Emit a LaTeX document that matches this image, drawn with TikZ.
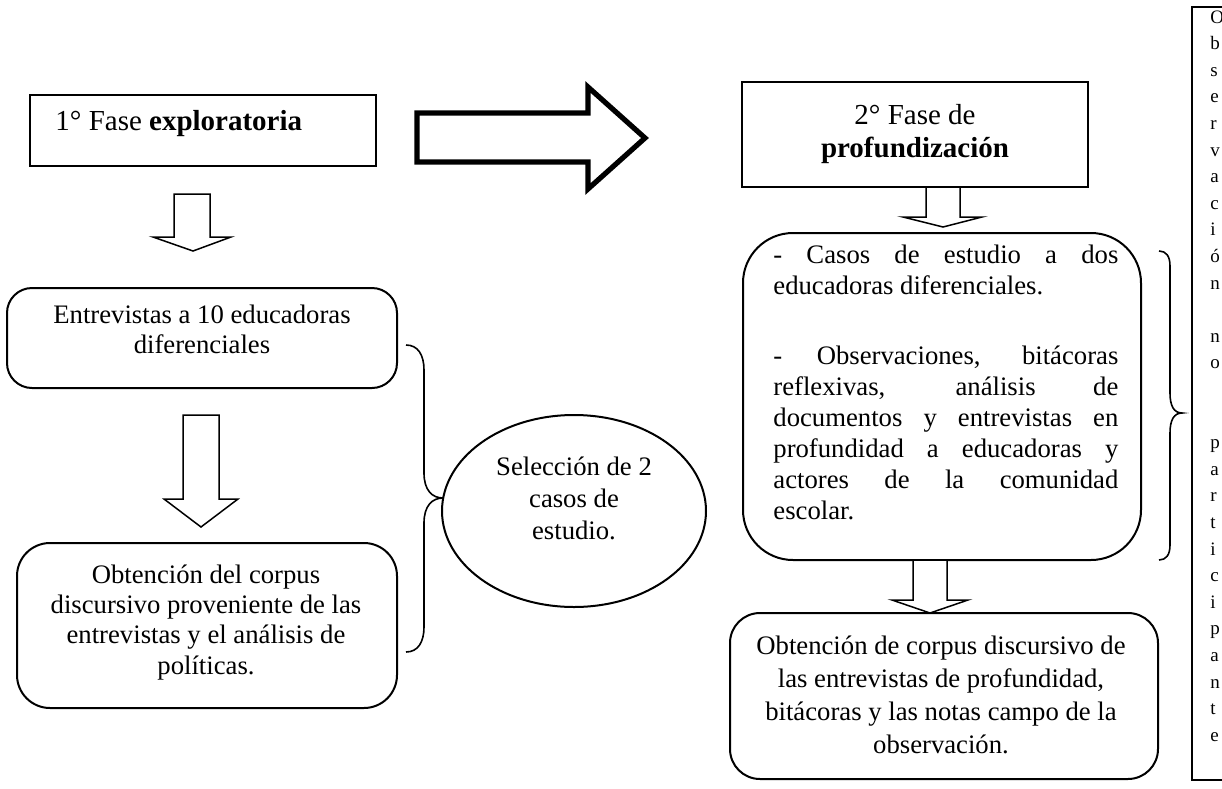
\documentclass[tikz,border=0pt]{standalone}
\usepackage{fontspec}
\setmainfont{Liberation Serif}
\usetikzlibrary{shapes.geometric}
\begin{document}
\begin{tikzpicture}[x=0.5pt,y=-0.5pt,
  frame/.style={draw=black, line width=1pt, inner sep=0pt, outer sep=0pt},
  rbox/.style={frame, rectangle},
  blockarrow/.style={draw=black, line width=0.75pt, line join=miter, fill=white},
  bigarrow/.style={draw=black, line width=2.6pt, line join=miter},
  bracepath/.style={draw=black, line width=0.8pt},
  tx/.style={font=\fontsize{13.35}{15.5}\selectfont, inner sep=0pt, anchor=base},
  txl/.style={tx, anchor=base west},
  ttl/.style={font=\fontsize{14.5}{16.5}\selectfont, inner sep=0pt, anchor=base},
  vt/.style={font=\fontsize{9.5}{11}\selectfont, inner sep=0pt, anchor=base west}]
\useasboundingbox (0,0) rectangle (1222,788);
\clip (0,0) rectangle (1222,788);

% ---------- phase 1 ----------
\node[rbox, minimum width=173pt, minimum height=35.5pt] (b1) at (203,130.5) {};
\node[ttl, anchor=base west] (f1) at (55,130) {1° Fase \textbf{exploratoria}};

% small arrow below phase 1
\draw[blockarrow] (174,194) -- (210,194) -- (210,237) -- (231,237) -- (193,251) -- (153,237) -- (174,237) -- cycle;

% big right arrow
\draw[bigarrow] (417,113) -- (588,113) -- (588,87) -- (645,138) -- (588,189) -- (588,162) -- (417,162) -- cycle;

% Entrevistas box
\node[rbox, rounded corners=12.5pt, minimum width=195pt, minimum height=50pt] (b3) at (202,338) {};
\node[tx] (t3a) at (202,323) {Entrevistas a 10 educadoras};
\node[tx] (t3b) at (202,353) {diferenciales};

% arrow between
\draw[blockarrow] (183,415) -- (219,415) -- (219,499) -- (238,499) -- (201,527) -- (164,499) -- (183,499) -- cycle;

% Obtencion box (left)
\node[rbox, rounded corners=16.5pt, minimum width=190pt, minimum height=82.5pt] (b4) at (207,625.5) {};
\node[tx] (t4a) at (206,583) {Obtención del corpus};
\node[tx] (t4b) at (206,613) {discursivo proveniente de las};
\node[tx] (t4c) at (206,643) {entrevistas y el análisis de};
\node[tx] (t4d) at (206,674) {políticas.};

% left brace
\draw[bracepath] (406,345) .. controls (418,345) and (424,355) .. (424,370)
  -- (424,473) .. controls (424,490) and (432,498) .. (443,498)
  .. controls (432,498) and (424,506) .. (424,523)
  -- (424,627) .. controls (424,642) and (418,652) .. (406,652);

% ellipse
\node[frame, ellipse, minimum width=132pt, minimum height=96pt] (sel) at (574,511) {};
\node[tx] (s1) at (574,475) {Selección de 2};
\node[tx] (s2) at (574,507) {casos de};
\node[tx] (s3) at (574,539) {estudio.};

% ---------- phase 2 ----------
\node[rbox, minimum width=173pt, minimum height=52.5pt] (b2) at (915,134.5) {};
\node[ttl] (f2a) at (915,124) {2° Fase de};
\node[ttl] (f2b) at (915,157) {\textbf{profundización}};

% small arrow below phase 2
\draw[blockarrow] (926,187) -- (960,187) -- (960,217) -- (982,217) -- (943,227) -- (903,217) -- (926,217) -- cycle;

% Casos box
\node[rbox, rounded corners=25pt, minimum width=199pt, minimum height=163.5pt] (b5) at (942,396.5) {};
\node[txl] (c1) at (773,263) {\makebox[172.5pt][s]{- Casos de estudio a dos}};
\node[txl] (c2) at (773,294) {educadoras diferenciales.};
\node[txl] (c3) at (773,364) {\makebox[172.5pt][s]{- Observaciones, bitácoras}};
\node[txl] (c4) at (773,395) {\makebox[172.5pt][s]{reflexivas, análisis de}};
\node[txl] (c5) at (773,426) {\makebox[172.5pt][s]{documentos y entrevistas en}};
\node[txl] (c6) at (773,457) {\makebox[172.5pt][s]{profundidad a educadoras y}};
\node[txl] (c7) at (773,488) {\makebox[172.5pt][s]{actores de la comunidad}};
\node[txl] (c8) at (773,519) {escolar.};

% right brace
\draw[bracepath] (1159,251) .. controls (1166,251) and (1170,256) .. (1170,266)
  -- (1170,393) .. controls (1170,406) and (1174,413) .. (1182,413)
  .. controls (1174,413) and (1170,420) .. (1170,433)
  -- (1170,545) .. controls (1170,555) and (1166,560) .. (1159,560);

% arrow below Casos
\draw[blockarrow] (913,560) -- (947,560) -- (947,600) -- (968,600) -- (930,613) -- (892,600) -- (913,600) -- cycle;

% bottom right box
\node[rbox, rounded corners=15pt, minimum width=214pt, minimum height=83pt] (b6) at (944,696) {};
\node[tx] (o1) at (941,654) {Obtención de corpus discursivo de};
\node[tx] (o2) at (941,687) {las entrevistas de profundidad,};
\node[tx] (o3) at (941,720) {bitácoras y las notas campo de la};
\node[tx] (o4) at (941,753) {observación.};

% tall vertical text box
\draw[frame] (1192,7) rectangle (1260,780);
\foreach \ch [count=\i from 0] in {O,b,s,e,r,v,a,c,i,ó,n,{},n,o,{},{},p,a,r,t,i,c,i,p,a,n,t,e}
  \node[vt] (v\i) at (1210,23+26.6*\i) {\ch};
\end{tikzpicture}
\end{document}
